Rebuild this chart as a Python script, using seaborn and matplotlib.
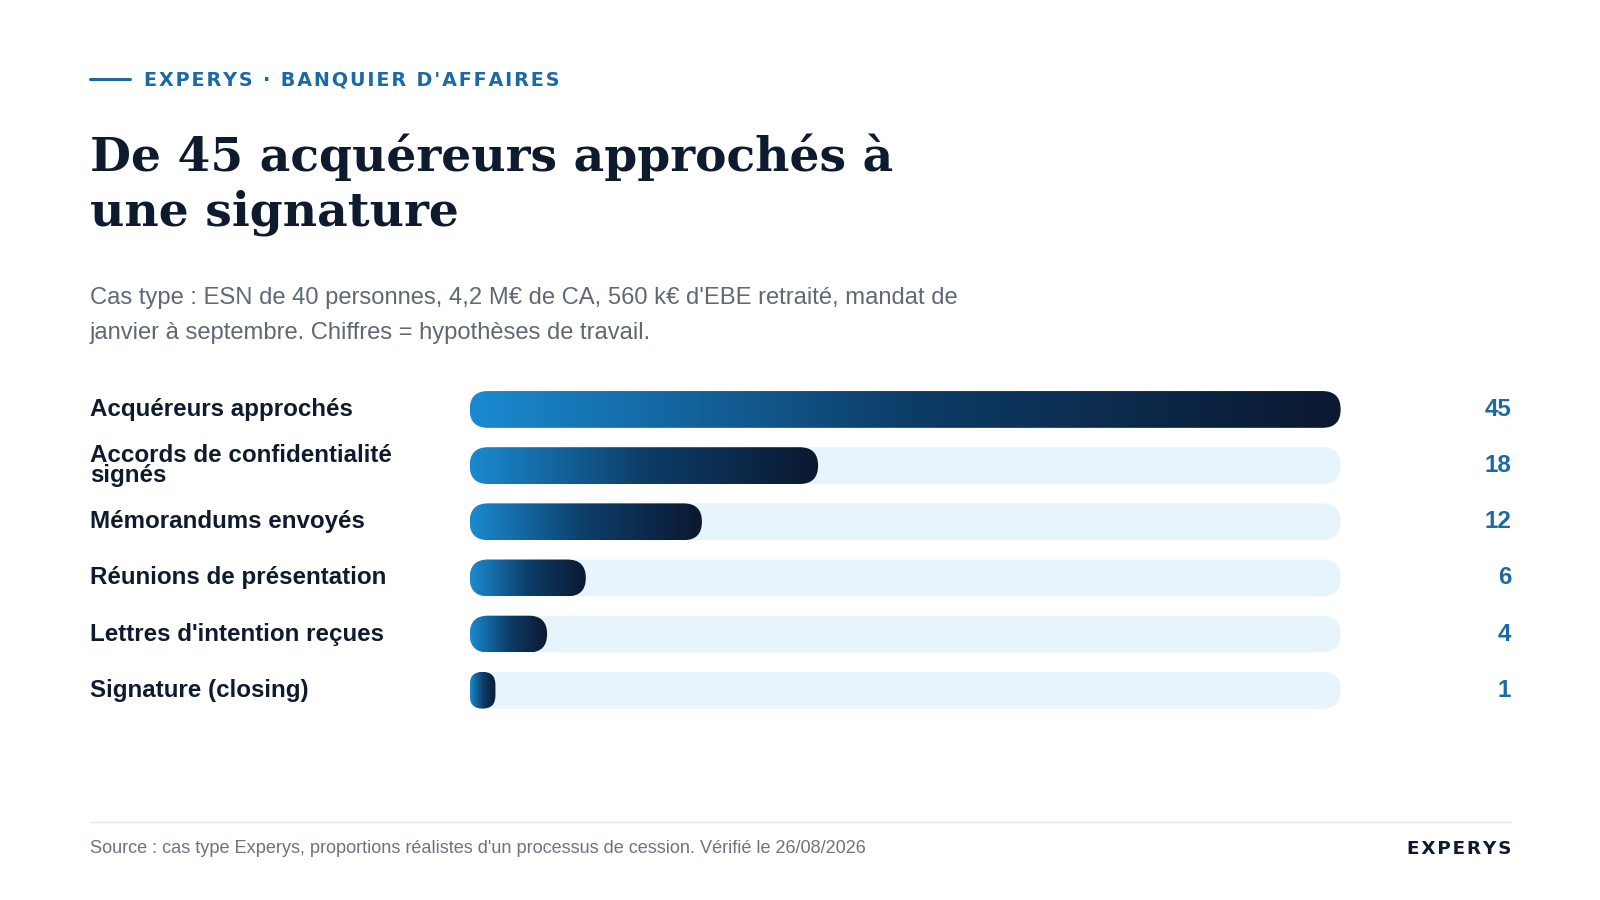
import numpy as np
import matplotlib
matplotlib.use("Agg")
import matplotlib.pyplot as plt
from matplotlib.patches import FancyBboxPatch
from matplotlib.colors import LinearSegmentedColormap
import seaborn as sns

categories = ["Acquéreurs approchés", "Accords de confidentialité\nsignés", "Mémorandums envoyés",
              "Réunions de présentation", "Lettres d'intention reçues", "Signature (closing)"]
values = [45, 18, 12, 6, 4, 1]
max_value = 45

sns.set_theme(style="white")
plt.rcParams['font.family'] = ['Liberation Sans', 'DejaVu Sans']

S = 1600 / 1567
W, H = 1600, 900
fig = plt.figure(figsize=(16, 9), dpi=100)
fig.patch.set_facecolor("white")

def fx(px): return px * S / W
def fy(py): return 1 - py * S / H
def fs(s): return s * S

# header
fig.add_artist(plt.Line2D([fx(88), fx(127)], [fy(77), fy(77)], color="#1b6aa5", lw=2.2))
hs = "\u200a"
fig.text(fx(141), fy(78), hs.join("EXPERYS · BANQUIER D'AFFAIRES"),
         color="#1b6aa5", fontsize=fs(13.5), fontweight="bold", va="center", ha="left",
         family=['DejaVu Sans'])
fig.text(fx(88), fy(181), "De 45 acquéreurs approchés à\nune signature", color="#0e1b2e",
         fontsize=fs(33.3), fontweight="bold", family=['DejaVu Serif'], va="center", ha="left",
         linespacing=1.22)
fig.text(fx(88), fy(309), "Cas type : ESN de 40 personnes, 4,2 M€ de CA, 560 k€ d'EBE retraité, mandat de\n"
         "janvier à septembre. Chiffres = hypothèses de travail.", color="#5f6873",
         fontsize=fs(16.8), va="center", ha="left", linespacing=1.75)

# bars
top, bot = 373.5, 703.5
ax = fig.add_axes([fx(460), fy(bot), fx(1313) - fx(460), (bot - top) * S / H])
track = "#e8f4fb"
sns.barplot(x=[max_value] * len(categories), y=list(range(len(categories))), orient="h",
            color=track, width=0.655, ax=ax, saturation=1)
ax.set_xlim(0, max_value)
ax.set_ylim(len(categories) - 0.5, -0.5)
ax.axis("off")

cmap = LinearSegmentedColormap.from_list("g", ["#1a8ad0", "#0d3d68", "#0b1830"])
px_per_x = 853 / max_value
px_per_y = 55
r_x = 18 / px_per_x
aspect = (18 / px_per_y) / r_x
grad = np.linspace(0, 1, 256).reshape(1, -1)

patches = list(ax.patches)
for p in patches:
    y0, h = p.get_y(), p.get_height()
    p.remove()
    ax.add_patch(FancyBboxPatch((0, y0), max_value, h, boxstyle=f"round,pad=0,rounding_size={r_x}",
                                mutation_aspect=aspect, fc=track, ec="none"))

for i, (p, v) in enumerate(zip(patches, values)):
    y0, h = p.get_y(), p.get_height()
    w = max(v, 2 * r_x * 0.7)
    clip = FancyBboxPatch((0, y0), w, h, boxstyle=f"round,pad=0,rounding_size={min(r_x, w/2)}",
                          mutation_aspect=aspect, fc="none", ec="none")
    ax.add_patch(clip)
    im = ax.imshow(grad, cmap=cmap, aspect="auto", extent=(0, w, y0 + h, y0), zorder=3)
    im.set_clip_path(clip)
ax.set_xlim(0, max_value)
ax.set_ylim(len(categories) - 0.5, -0.5)

rows = [401, 456, 511, 566, 621, 676]
for yy, lab, v in zip(rows, categories, values):
    fig.text(fx(88), fy(yy), lab, color="#0e1b2e", fontsize=fs(17), fontweight="bold",
             va="center", ha="left", linespacing=0.8)
    fig.text(fx(1480), fy(yy), str(v), color="#1b6aa5", fontsize=fs(17), fontweight="bold",
             va="center", ha="right")

# footer
fig.add_artist(plt.Line2D([fx(88), fx(1480)], [fy(805), fy(805)], color="#e3e6ea", lw=1))
fig.text(fx(88), fy(831), "Source : cas type Experys, proportions réalistes d'un processus de cession. Vérifié le 26/08/2026",
         color="#6b7480", fontsize=fs(12.8), va="center", ha="left")
fig.text(fx(1480), fy(831), hs.join("EXPERYS"), color="#0e1b2e", fontsize=fs(13), fontweight="bold",
         va="center", ha="right", family=['DejaVu Sans'])

fig.savefig("out.png", dpi=100, facecolor="white")
